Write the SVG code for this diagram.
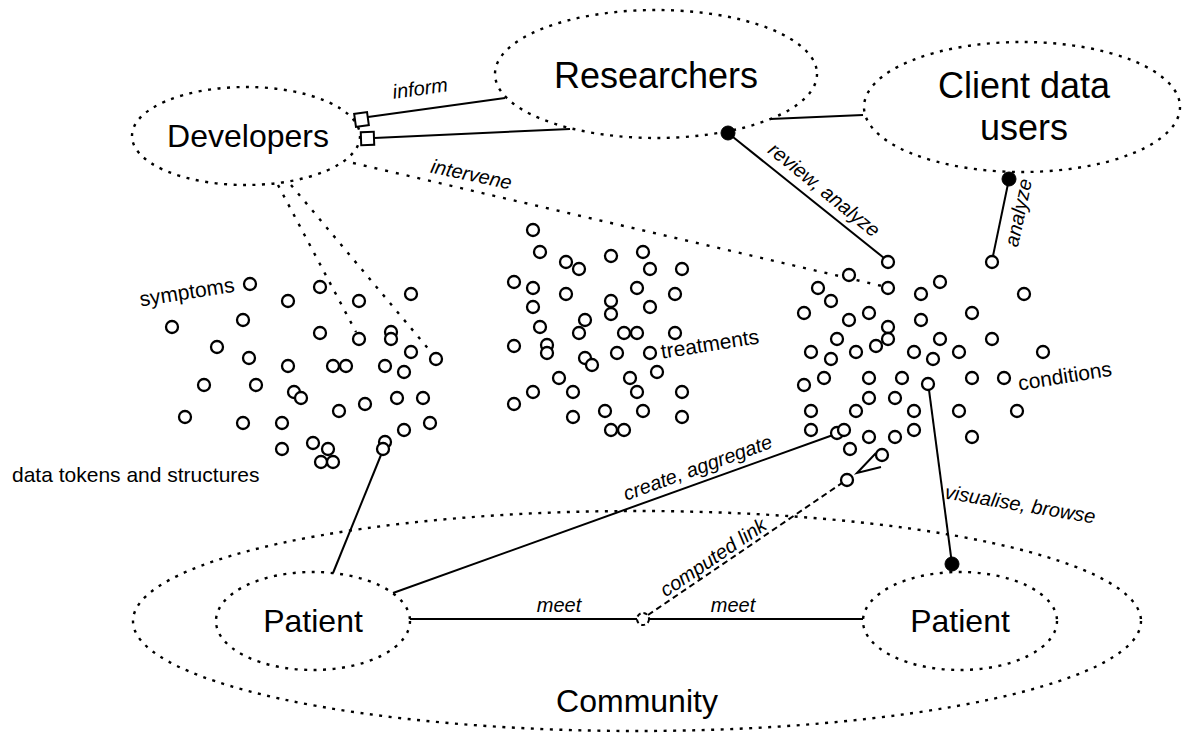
<svg xmlns="http://www.w3.org/2000/svg" width="1183" height="736" viewBox="0 0 1183 736">
<style>
.bg{fill:#fff}
.ell{fill:none;stroke:#000;stroke-width:2.4;stroke-dasharray:3 6.5}
.dot{fill:none;stroke:#000;stroke-width:2.4;stroke-dasharray:3 8}
.ln{fill:none;stroke:#000;stroke-width:2}
.dash{fill:none;stroke:#000;stroke-width:2;stroke-dasharray:6 4}
.tok{fill:#fff;stroke:#000;stroke-width:2.3}
.end{fill:#000;stroke:#000;stroke-width:1}
.sq{fill:#fff;stroke:#000;stroke-width:2}
.big{font-family:"Liberation Sans",Arial,Helvetica,sans-serif;font-size:32px;fill:#000;text-anchor:middle}
.big2{font-family:"Liberation Sans",Arial,Helvetica,sans-serif;font-size:36px;fill:#000;text-anchor:middle}
.lab{font-family:"Liberation Sans",Arial,Helvetica,sans-serif;font-size:21px;fill:#000;text-anchor:middle}
.it{font-family:"Liberation Sans",Arial,Helvetica,sans-serif;font-size:20px;font-style:italic;fill:#000;text-anchor:middle}
</style>
<rect class="bg" x="0" y="0" width="1183" height="736"/>

<g id="community">
<ellipse class="ell" cx="637" cy="621" rx="504" ry="110"/>
<text class="big" x="637" y="712">Community</text>
</g>
<g id="patient-left">
<ellipse class="ell" cx="313" cy="621" rx="97" ry="49"/>
<text class="big" x="313" y="632">Patient</text>
</g>
<g id="patient-right">
<ellipse class="ell" cx="960" cy="621" rx="97" ry="49"/>
<text class="big" x="960" y="632">Patient</text>
</g>
<g id="developers">
<ellipse class="ell" cx="246" cy="136" rx="114" ry="49"/>
<text class="big" x="248" y="147">Developers</text>
</g>
<g id="researchers">
<ellipse class="ell" cx="656" cy="74" rx="161" ry="64"/>
<text class="big2" x="656" y="88">Researchers</text>
</g>
<g id="client-data-users">
<ellipse class="ell" cx="1022" cy="107" rx="158" ry="65"/>
<text class="big2" x="1024" y="98">Client data</text>
<text class="big2" x="1024" y="140">users</text>
</g>

<g id="connectors">
<line class="ln" x1="368" y1="117" x2="505" y2="98"/>
<line class="ln" x1="374" y1="138" x2="570" y2="129"/>
<rect class="sq" x="355" y="113" width="13" height="13" transform="rotate(-8 361.5 119.5)"/>
<rect class="sq" x="361" y="132" width="13" height="13" transform="rotate(-2 367.5 138.5)"/>
<line class="ln" x1="770" y1="119" x2="863" y2="115"/>
<line class="dot" x1="353" y1="163" x2="882" y2="286"/>
<line class="dot" x1="278" y1="185" x2="356" y2="332"/>
<line class="dot" x1="291" y1="185" x2="431" y2="352"/>
<line class="ln" x1="728" y1="133" x2="884" y2="258"/>
<circle class="end" cx="728" cy="133" r="7"/>
<line class="ln" x1="1009" y1="179" x2="993" y2="256"/>
<circle class="end" cx="1009" cy="179" r="7"/>
<line class="ln" x1="929" y1="390" x2="952" y2="564"/>
<circle class="end" cx="952" cy="564" r="7"/>
<line class="ln" x1="393" y1="593" x2="833" y2="435"/>
<line class="ln" x1="381" y1="455" x2="333" y2="573"/>
<line class="dash" x1="648" y1="615" x2="842" y2="483"/>
<polyline class="ln" points="876,453 857,473 881,467"/>
<line class="ln" x1="410" y1="619" x2="637" y2="619"/>
<line class="ln" x1="649" y1="619" x2="863" y2="619"/>
<circle cx="643" cy="619" r="6" fill="#fff" stroke="#000" stroke-width="2" stroke-dasharray="4 3"/>
<text class="it" transform="translate(421 95) rotate(-8)">inform</text>
<text class="it" transform="translate(470 181) rotate(12)">intervene</text>
<text class="it" transform="translate(820 195) rotate(39)">review, analyze</text>
<text class="it" transform="translate(1025 214) rotate(-78)">analyze</text>
<text class="it" transform="translate(1019 511) rotate(9.5)">visualise, browse</text>
<text class="it" transform="translate(700 474) rotate(-20)">create, aggregate</text>
<text class="it" transform="translate(717 563) rotate(-34)">computed link</text>
<text class="it" x="559" y="612">meet</text>
<text class="it" x="733" y="612">meet</text>
</g>

<g id="symptoms">
<text class="lab" transform="translate(188 299) rotate(-9)">symptoms</text>
<circle class="tok" cx="250" cy="284" r="6"/>
<circle class="tok" cx="320" cy="287" r="6"/>
<circle class="tok" cx="288" cy="301" r="6"/>
<circle class="tok" cx="359" cy="301" r="6"/>
<circle class="tok" cx="411" cy="294" r="6"/>
<circle class="tok" cx="172" cy="327" r="6"/>
<circle class="tok" cx="243" cy="320" r="6"/>
<circle class="tok" cx="320" cy="333" r="6"/>
<circle class="tok" cx="359" cy="339" r="6"/>
<circle class="tok" cx="391" cy="332" r="6"/>
<circle class="tok" cx="391" cy="339" r="6"/>
<circle class="tok" cx="411" cy="352" r="6"/>
<circle class="tok" cx="436" cy="359" r="6"/>
<circle class="tok" cx="217" cy="347" r="6"/>
<circle class="tok" cx="249" cy="358" r="6"/>
<circle class="tok" cx="288" cy="366" r="6"/>
<circle class="tok" cx="333" cy="366" r="6"/>
<circle class="tok" cx="346" cy="366" r="6"/>
<circle class="tok" cx="385" cy="366" r="6"/>
<circle class="tok" cx="404" cy="372" r="6"/>
<circle class="tok" cx="204" cy="385" r="6"/>
<circle class="tok" cx="256" cy="385" r="6"/>
<circle class="tok" cx="294" cy="392" r="6"/>
<circle class="tok" cx="301" cy="398" r="6"/>
<circle class="tok" cx="339" cy="411" r="6"/>
<circle class="tok" cx="365" cy="404" r="6"/>
<circle class="tok" cx="397" cy="398" r="6"/>
<circle class="tok" cx="423" cy="398" r="6"/>
<circle class="tok" cx="185" cy="417" r="6"/>
<circle class="tok" cx="243" cy="423" r="6"/>
<circle class="tok" cx="282" cy="423" r="6"/>
<circle class="tok" cx="404" cy="430" r="6"/>
<circle class="tok" cx="430" cy="423" r="6"/>
<circle class="tok" cx="282" cy="449" r="6"/>
<circle class="tok" cx="313" cy="443" r="6"/>
<circle class="tok" cx="328" cy="449" r="6"/>
<circle class="tok" cx="321" cy="462" r="6"/>
<circle class="tok" cx="333" cy="462" r="6"/>
<circle class="tok" cx="385" cy="442" r="6"/>
<circle class="tok" cx="383" cy="449" r="6"/>
</g>

<g id="treatments">
<text class="lab" transform="translate(711 351) rotate(-9)">treatments</text>
<circle class="tok" cx="533" cy="230" r="6"/>
<circle class="tok" cx="540" cy="252" r="6"/>
<circle class="tok" cx="566" cy="262" r="6"/>
<circle class="tok" cx="579" cy="269" r="6"/>
<circle class="tok" cx="611" cy="256" r="6"/>
<circle class="tok" cx="643" cy="252" r="6"/>
<circle class="tok" cx="650" cy="269" r="6"/>
<circle class="tok" cx="682" cy="269" r="6"/>
<circle class="tok" cx="514" cy="282" r="6"/>
<circle class="tok" cx="533" cy="288" r="6"/>
<circle class="tok" cx="566" cy="294" r="6"/>
<circle class="tok" cx="637" cy="288" r="6"/>
<circle class="tok" cx="675" cy="294" r="6"/>
<circle class="tok" cx="611" cy="301" r="6"/>
<circle class="tok" cx="611" cy="314" r="6"/>
<circle class="tok" cx="650" cy="307" r="6"/>
<circle class="tok" cx="533" cy="307" r="6"/>
<circle class="tok" cx="540" cy="327" r="6"/>
<circle class="tok" cx="585" cy="320" r="6"/>
<circle class="tok" cx="579" cy="333" r="6"/>
<circle class="tok" cx="624" cy="333" r="6"/>
<circle class="tok" cx="637" cy="333" r="6"/>
<circle class="tok" cx="675" cy="333" r="6"/>
<circle class="tok" cx="514" cy="346" r="6"/>
<circle class="tok" cx="547" cy="345" r="6"/>
<circle class="tok" cx="547" cy="353" r="6"/>
<circle class="tok" cx="585" cy="358" r="6"/>
<circle class="tok" cx="592" cy="365" r="6"/>
<circle class="tok" cx="617" cy="353" r="6"/>
<circle class="tok" cx="650" cy="353" r="6"/>
<circle class="tok" cx="657" cy="372" r="6"/>
<circle class="tok" cx="559" cy="378" r="6"/>
<circle class="tok" cx="533" cy="392" r="6"/>
<circle class="tok" cx="573" cy="392" r="6"/>
<circle class="tok" cx="630" cy="378" r="6"/>
<circle class="tok" cx="637" cy="392" r="6"/>
<circle class="tok" cx="682" cy="392" r="6"/>
<circle class="tok" cx="514" cy="404" r="6"/>
<circle class="tok" cx="573" cy="417" r="6"/>
<circle class="tok" cx="605" cy="411" r="6"/>
<circle class="tok" cx="643" cy="411" r="6"/>
<circle class="tok" cx="682" cy="417" r="6"/>
<circle class="tok" cx="611" cy="430" r="6"/>
<circle class="tok" cx="624" cy="430" r="6"/>
</g>

<g id="conditions">
<text class="lab" transform="translate(1066 383) rotate(-9)">conditions</text>
<circle class="tok" cx="849" cy="275" r="6"/>
<circle class="tok" cx="888" cy="262" r="6"/>
<circle class="tok" cx="992" cy="262" r="6"/>
<circle class="tok" cx="888" cy="288" r="6"/>
<circle class="tok" cx="818" cy="288" r="6"/>
<circle class="tok" cx="831" cy="301" r="6"/>
<circle class="tok" cx="940" cy="282" r="6"/>
<circle class="tok" cx="921" cy="294" r="6"/>
<circle class="tok" cx="1024" cy="294" r="6"/>
<circle class="tok" cx="804" cy="313" r="6"/>
<circle class="tok" cx="849" cy="320" r="6"/>
<circle class="tok" cx="869" cy="313" r="6"/>
<circle class="tok" cx="921" cy="320" r="6"/>
<circle class="tok" cx="972" cy="313" r="6"/>
<circle class="tok" cx="888" cy="327" r="6"/>
<circle class="tok" cx="888" cy="339" r="6"/>
<circle class="tok" cx="837" cy="339" r="6"/>
<circle class="tok" cx="876" cy="346" r="6"/>
<circle class="tok" cx="940" cy="339" r="6"/>
<circle class="tok" cx="992" cy="339" r="6"/>
<circle class="tok" cx="811" cy="352" r="6"/>
<circle class="tok" cx="831" cy="359" r="6"/>
<circle class="tok" cx="856" cy="352" r="6"/>
<circle class="tok" cx="914" cy="352" r="6"/>
<circle class="tok" cx="933" cy="359" r="6"/>
<circle class="tok" cx="959" cy="352" r="6"/>
<circle class="tok" cx="1043" cy="352" r="6"/>
<circle class="tok" cx="804" cy="385" r="6"/>
<circle class="tok" cx="824" cy="378" r="6"/>
<circle class="tok" cx="869" cy="378" r="6"/>
<circle class="tok" cx="902" cy="378" r="6"/>
<circle class="tok" cx="928" cy="384" r="6"/>
<circle class="tok" cx="972" cy="378" r="6"/>
<circle class="tok" cx="1004" cy="378" r="6"/>
<circle class="tok" cx="869" cy="398" r="6"/>
<circle class="tok" cx="895" cy="398" r="6"/>
<circle class="tok" cx="811" cy="411" r="6"/>
<circle class="tok" cx="856" cy="411" r="6"/>
<circle class="tok" cx="914" cy="411" r="6"/>
<circle class="tok" cx="959" cy="411" r="6"/>
<circle class="tok" cx="1017" cy="411" r="6"/>
<circle class="tok" cx="811" cy="430" r="6"/>
<circle class="tok" cx="837" cy="433" r="6"/>
<circle class="tok" cx="844" cy="430" r="6"/>
<circle class="tok" cx="869" cy="437" r="6"/>
<circle class="tok" cx="895" cy="437" r="6"/>
<circle class="tok" cx="914" cy="430" r="6"/>
<circle class="tok" cx="972" cy="437" r="6"/>
<circle class="tok" cx="850" cy="449" r="6"/>
<circle class="tok" cx="882" cy="455" r="6"/>
<circle class="tok" cx="847" cy="480" r="6"/>
</g>

<g id="data-tokens-label">
<text class="lab" x="12" y="482" style="text-anchor:start">data tokens and structures</text>
</g>
</svg>
